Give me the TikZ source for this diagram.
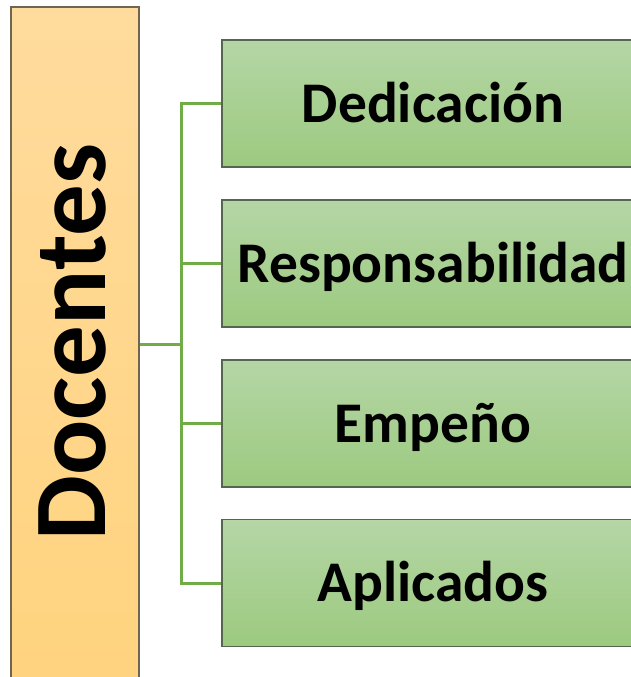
\documentclass[tikz,border=0pt]{standalone}
\usepackage{fontspec}
\setmainfont{Carlito}
\definecolor{orTop}{HTML}{FFDB9D}
\definecolor{orBot}{HTML}{FFD37E}
\definecolor{grTop}{HTML}{B5D6A5}
\definecolor{grBot}{HTML}{9CCA80}
\definecolor{orBorder}{HTML}{6E6650}
\definecolor{grBorder}{HTML}{56664E}
\definecolor{linkGreen}{HTML}{70AD47}
\tikzset{
  catbox/.style={rectangle, draw=grBorder, line width=1.5pt, top color=grTop, bottom color=grBot,
    minimum width=422pt, minimum height=127pt, inner sep=0pt,
    font=\fontsize{57.5}{60}\selectfont\bfseries, text height=37pt, text depth=0pt},
  mainbox/.style={rectangle, draw=orBorder, line width=1.5pt, top color=orTop, bottom color=orBot,
    minimum width=128pt, minimum height=680pt, inner sep=0pt},
  link/.style={draw=linkGreen, line width=3pt}
}
\begin{document}
\begin{tikzpicture}[x=1pt,y=-1pt]
\useasboundingbox (0,0) rectangle (631,677);
\clip (0,0) rectangle (631,677);
\fill[white] (0,0) rectangle (631,677);
\node[mainbox] (doc) at (75,347) {};
\node[rotate=90, font=\fontsize{103}{105}\selectfont\bfseries, text height=66pt, text depth=0pt, inner sep=0pt] (doctext) at (72,342) {Docentes};
\node[catbox] (b1) at (433,103.5) {Dedicación};
\node[catbox] (b2) at (433,263.5) {Responsabilidad};
\node[catbox] (b3) at (433,423.5) {Empeño};
\node[catbox] (b4) at (433,583) {Aplicados};
\coordinate (j) at (181,344);
\draw[link] (doc.east |- j) -- (j);
\draw[link] (b1.west) -- (b1.west -| j) -- (b4.west -| j) -- (b4.west);
\draw[link] (b2.west) -- (b2.west -| j);
\draw[link] (b3.west) -- (b3.west -| j);
\end{tikzpicture}
\end{document}
